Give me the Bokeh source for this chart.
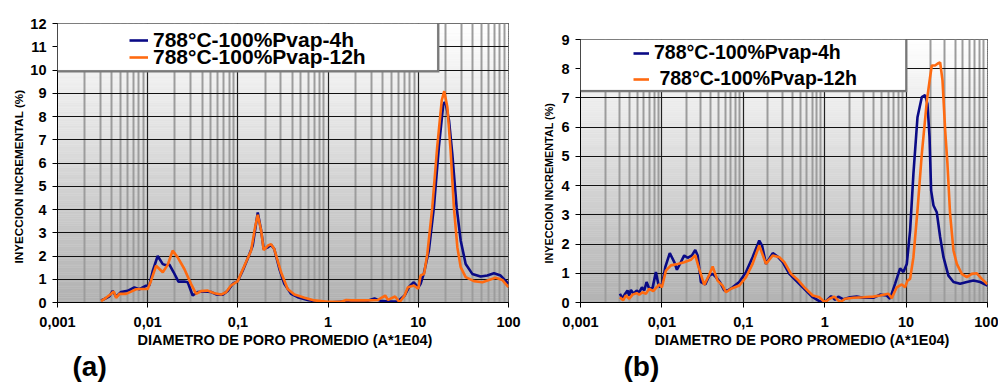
import numpy as np
from bokeh.plotting import figure
from bokeh.layouts import row, column
from bokeh.models import (FixedTicker, Title, BoxAnnotation, Legend, LegendItem, Range1d, Spacer)
from bokeh.embed import file_html
from bokeh.resources import INLINE

# ---------------- data ----------------
series_names = ["788°C-100%Pvap-4h", "788°C-100%Pvap-12h"]
y_title = "INYECCION INCREMENTAL (%)"
x_title = "DIAMETRO DE PORO PROMEDIO (A*1E04)"
panel_tags = ["(a)", "(b)"]
x_ticks = [0.001, 0.01, 0.1, 1, 10, 100]
x_tick_labels = ["0,001", "0,01", "0,1", "1", "10", "100"]

a_blue_x = [0.00304, 0.00331, 0.00376, 0.00409, 0.00446, 0.00506, 0.006, 0.00711, 0.00809, 0.00959,
            0.0104, 0.0114, 0.0129, 0.0147, 0.016, 0.0174, 0.0194, 0.0219, 0.0255, 0.0278,
            0.0315, 0.0358, 0.0425, 0.0504, 0.0573, 0.0678, 0.0771, 0.0875, 0.0995, 0.113,
            0.128, 0.146, 0.166, 0.181, 0.193, 0.214, 0.233, 0.253, 0.288, 0.327,
            0.388, 0.46, 0.594, 0.767, 0.99, 1.4, 2.54, 3.27, 3.88, 5.01,
            5.94, 7.05, 8.0, 8.9, 9.5, 9.9, 10.6, 11.6, 13.1, 14.9,
            16.9, 18.9, 19.6, 20.3, 21.9, 23.8, 26.6, 29.5, 33.5, 39.7,
            49.1, 58.2, 69.0, 81.8, 100]
a_blue_y = [0.09, 0.15, 0.26, 0.5, 0.25, 0.45, 0.5, 0.65, 0.57, 0.72,
            0.72, 1.37, 2.0, 1.65, 1.6, 1.63, 1.3, 0.9, 0.9, 0.87,
            0.3, 0.45, 0.47, 0.45, 0.35, 0.33, 0.5, 0.8, 0.92, 1.37,
            1.87, 2.45, 3.87, 3.1, 2.3, 2.37, 2.48, 2.3, 1.45, 0.8,
            0.37, 0.23, 0.11, 0.03, 0.0, 0.03, 0.03, 0.17, 0.06, 0.04,
            0.05, 0.3, 0.7, 0.87, 0.75, 0.62, 0.8, 1.3, 2.24, 4.1,
            6.68, 8.5, 8.62, 8.5, 7.83, 6.4, 4.1, 2.67, 1.66, 1.23,
            1.12, 1.16, 1.26, 1.16, 0.8]

a_orange_x = [0.00304, 0.00345, 0.00392, 0.0042, 0.00446, 0.00485, 0.00575, 0.00654, 0.00743, 0.00844,
              0.01, 0.0109, 0.0124, 0.0147, 0.0167, 0.0189, 0.0215, 0.0255, 0.0302, 0.0344,
              0.039, 0.0463, 0.0548, 0.065, 0.0738, 0.0839, 0.0995, 0.118, 0.14, 0.155,
              0.166, 0.181, 0.193, 0.214, 0.233, 0.253, 0.301, 0.356, 0.423, 0.546,
              0.705, 0.99, 1.4, 1.59, 1.8, 2.54, 3.57, 4.3, 4.6, 5.53,
              6.19, 7.05, 7.67, 8.93, 10.0, 10.6, 11.6, 12.6, 14.3, 16.2,
              18.2, 19.4, 21.0, 22.8, 24.8, 27.1, 29.5, 33.5, 41.4, 51.3,
              60.7, 71.9, 85.3, 100]
a_orange_y = [0.06, 0.2, 0.37, 0.48, 0.2, 0.37, 0.37, 0.47, 0.57, 0.58,
              0.58, 0.94, 1.58, 1.3, 1.63, 2.23, 1.94, 1.44, 0.8, 0.37,
              0.49, 0.51, 0.4, 0.34, 0.44, 0.73, 0.92, 1.58, 2.23, 3.23,
              3.77, 3.1, 2.25, 2.44, 2.51, 2.3, 1.3, 0.58, 0.34, 0.2,
              0.09, 0.03, 0.03, 0.11, 0.09, 0.09, 0.11, 0.3, 0.11, 0.26,
              0.01, 0.3, 0.66, 0.73, 0.59, 1.16, 1.23, 2.09, 4.1, 6.68,
              8.69, 9.09, 8.4, 6.54, 4.1, 2.38, 1.52, 1.09, 0.92, 0.87,
              0.97, 1.06, 0.97, 0.66]

b_blue_x = [0.00305, 0.00328, 0.00354, 0.00378, 0.00397, 0.00416, 0.00449, 0.00489, 0.00527, 0.00568,
            0.00607, 0.00648, 0.00699, 0.00768, 0.00844, 0.00902, 0.00954, 0.0102, 0.011, 0.0125,
            0.0142, 0.0153, 0.0171, 0.0188, 0.0207, 0.0234, 0.0257, 0.0275, 0.0302, 0.0341,
            0.0382, 0.042, 0.0461, 0.0516, 0.0583, 0.0641, 0.0739, 0.0893, 0.108, 0.13,
            0.157, 0.17, 0.19, 0.23, 0.264, 0.305, 0.368, 0.444, 0.537, 0.712,
            0.859, 1.0, 1.2, 1.34, 1.47, 1.7, 2.05, 2.47, 2.99, 3.96,
            4.79, 5.78, 6.35, 7.32, 8.44, 9.27, 10.2, 11.2, 12.3, 13.8,
            15.6, 17.1, 18.3, 19.4, 20.3, 21.7, 23.8, 26.2, 28.8, 33.1,
            38.2, 46.1, 55.7, 67.3, 81.3, 100]
b_blue_y = [0.3, 0.13, 0.3, 0.41, 0.24, 0.43, 0.3, 0.41, 0.35, 0.52,
            0.41, 0.7, 0.47, 0.5, 1.04, 0.64, 0.52, 0.7, 1.21, 1.69,
            1.38, 1.12, 1.38, 1.61, 1.53, 1.61, 1.8, 1.61, 0.7, 0.62,
            0.92, 0.98, 0.87, 0.7, 0.41, 0.41, 0.52, 0.7, 1.04, 1.55,
            2.12, 1.95, 1.32, 1.69, 1.57, 1.38, 0.98, 0.75, 0.52, 0.18,
            0.05, 0.0, 0.22, 0.09, 0.2, 0.11, 0.18, 0.2, 0.16, 0.16,
            0.27, 0.24, 0.13, 0.64, 1.17, 1.04, 1.32, 2.46, 4.4, 6.34,
            7.03, 7.1, 6.8, 5.66, 3.83, 3.32, 3.09, 2.24, 1.55, 0.92,
            0.7, 0.64, 0.7, 0.75, 0.7, 0.58]

b_orange_x = [0.00305, 0.00334, 0.00361, 0.00397, 0.00436, 0.00489, 0.00527, 0.00579, 0.00636, 0.00699,
              0.00783, 0.0086, 0.00927, 0.01, 0.0112, 0.0129, 0.0156, 0.0188, 0.0227, 0.0257,
              0.0283, 0.0331, 0.0382, 0.042, 0.0483, 0.0557, 0.0612, 0.0706, 0.0893, 0.108,
              0.13, 0.157, 0.19, 0.23, 0.277, 0.319, 0.386, 0.465, 0.563, 0.712,
              0.859, 1.0, 1.15, 1.31, 1.55, 1.78, 2.25, 2.99, 3.96, 4.79,
              6.06, 6.66, 7.68, 8.85, 9.72, 10.4, 11.2, 12.3, 13.8, 15.6,
              18.0, 19.7, 20.7, 22.7, 24.3, 26.2, 28.0, 30.2, 32.2, 34.7,
              38.2, 42.0, 48.3, 55.7, 64.1, 73.9, 85.1, 100]
b_orange_y = [0.18, 0.07, 0.24, 0.13, 0.27, 0.32, 0.27, 0.35, 0.3, 0.47,
              0.39, 0.52, 0.62, 0.52, 1.09, 1.27, 1.32, 1.38, 1.46, 1.62,
              1.2, 0.6, 0.95, 1.23, 0.75, 0.58, 0.35, 0.47, 0.58, 0.87,
              1.32, 1.95, 1.32, 1.61, 1.55, 1.38, 0.98, 0.78, 0.52, 0.24,
              0.18, 0.01, 0.13, 0.2, 0.01, 0.13, 0.16, 0.18, 0.2, 0.24,
              0.3, 0.15, 0.52, 0.62, 0.52, 0.75, 0.81, 1.55, 3.15, 5.09,
              6.91, 7.71, 8.11, 8.11, 8.17, 8.22, 7.6, 5.89, 4.75, 3.03,
              1.78, 1.32, 0.98, 0.87, 0.98, 1.0, 0.81, 0.62]

BLUE = "#0a0a86"
ORANGE = "#ff6a10"
FONT = "Liberation Sans"


def make_panel(width, height, left, right, top, ymax, bx, by, ox, oy, box_right, box_bottom,
               leg_locs, leg_font, leg_glyph_w, label_prefix, ylab_offset, ylab_standoff, ylab_size,
               xlab_offset, tag_offset, tag):
    bottom = 83
    p = figure(width=width, height=height, x_axis_type="log",
               x_range=Range1d(0.001, 100), y_range=Range1d(0, ymax),
               output_backend="svg", toolbar_location=None,
               min_border_left=left, min_border_right=right,
               min_border_top=top, min_border_bottom=bottom)
    p.background_fill_color = "white"
    p.border_fill_color = "white"
    p.outline_line_color = "black"
    p.outline_line_width = 1

    # vertical gradient background (grey at bottom -> white at top)
    n = 120
    edges = np.linspace(0, ymax, n + 1)
    cols = []
    for i in range(n):
        t = (i + 0.5) / n
        g = int(round(0xb2 + (0xff - 0xb2) * t))
        cols.append("#%02x%02x%02x" % (g, g, g))
    p.quad(left=0.001, right=100, bottom=edges[:-1], top=edges[1:],
           fill_color=cols, line_color=cols, line_width=0.5, level="image")

    minor = []
    for k in range(-3, 2):
        for m in range(2, 10):
            minor.append(m * 10.0 ** k)
    xt = FixedTicker(ticks=x_ticks, minor_ticks=minor)
    p.xaxis.ticker = xt
    p.xgrid.ticker = xt
    p.xaxis.major_label_overrides = dict(zip(x_ticks, x_tick_labels))
    p.yaxis.ticker = FixedTicker(ticks=list(range(0, ymax + 1)))
    p.ygrid.ticker = FixedTicker(ticks=list(range(0, ymax + 1)))

    p.xgrid.grid_line_color = "#222222"
    p.xgrid.grid_line_width = 1.2
    p.xgrid.minor_grid_line_color = "#9c9c9c"
    p.xgrid.minor_grid_line_width = 2
    p.ygrid.grid_line_color = "#111111"
    p.ygrid.grid_line_width = 1.2

    for ax in (p.xaxis, p.yaxis):
        ax.axis_line_color = "black"
        ax.axis_line_width = 1
        ax.major_tick_line_color = "black"
        ax.major_tick_out = 5
        ax.major_tick_in = 0
        ax.minor_tick_out = 0
        ax.minor_tick_in = 0
        ax.major_label_text_font = FONT
        ax.major_label_text_font_style = "bold"
        ax.major_label_text_font_size = "14.5px"
        ax.major_label_text_color = "black"
    p.xaxis.major_label_standoff = 9
    p.yaxis.major_label_standoff = 6

    rb = p.line(bx, by, line_color=BLUE, line_width=2.6)
    ro = p.line(ox, oy, line_color=ORANGE, line_width=2.6)

    # legend frame with shadow
    sh = 10 ** (2.0 / ((508 - 57) / 5.0))
    dy = ymax * 2.0 / 279.0
    p.add_layout(BoxAnnotation(left=0.001, right=box_right * sh, bottom=box_bottom - dy, top=ymax,
                               fill_color="#7a7a7a", fill_alpha=1, line_alpha=0, level="annotation"))
    p.add_layout(BoxAnnotation(left=0.001, right=box_right, bottom=box_bottom, top=ymax,
                               fill_color="white", fill_alpha=1, line_color="black",
                               line_width=1, level="annotation"))
    for i, (r, name) in enumerate(zip([rb, ro], series_names)):
        leg = Legend(items=[LegendItem(label=label_prefix[i] + name, renderers=[r])],
                     location=leg_locs[i], orientation="vertical",
                     background_fill_alpha=0, border_line_alpha=0,
                     padding=0, margin=0, spacing=0,
                     glyph_width=leg_glyph_w, glyph_height=14, label_standoff=5,
                     label_height=14,
                     label_text_font=FONT, label_text_font_style="bold",
                     label_text_font_size=leg_font, label_text_color="black")
        p.add_layout(leg, "center")

    p.add_layout(Title(text=y_title, align="left", offset=ylab_offset, standoff=ylab_standoff,
                       text_font=FONT, text_font_style="bold", text_font_size=ylab_size,
                       text_color="black"), "left")
    p.add_layout(Title(text=x_title, align="left", offset=xlab_offset, standoff=0,
                       text_font=FONT, text_font_style="bold", text_font_size="14.5px",
                       text_color="black"), "below")
    p.add_layout(Title(text=tag, align="left", offset=tag_offset, standoff=3,
                       text_font=FONT, text_font_style="bold", text_font_size="28px",
                       text_color="black"), "below")
    return p


pa = make_panel(530, 385, 57, 22, 23, 12, a_blue_x, a_blue_y, a_orange_x, a_orange_y,
                box_right=16.3, box_bottom=9.98, leg_locs=[(72, 250), (72, 233)], leg_font="21px",
                leg_glyph_w=19, label_prefix=["", ""], ylab_offset=39, ylab_standoff=6,
                ylab_size="11.7px", xlab_offset=80, tag_offset=15, tag=panel_tags[0])
pb = make_panel(468, 369, 50, 11, 23, 9, b_blue_x, b_blue_y, b_orange_x, b_orange_y,
                box_right=9.85, box_bottom=7.26, leg_locs=[(53, 238), (53, 212)], leg_font="19.5px",
                leg_glyph_w=16, label_prefix=["", " "], ylab_offset=39, ylab_standoff=7,
                ylab_size="10.8px", xlab_offset=74, tag_offset=43, tag=panel_tags[1])

layout = row(pa, column(Spacer(width=468, height=16), pb))
open("out.html", "w").write(file_html(layout, INLINE))
